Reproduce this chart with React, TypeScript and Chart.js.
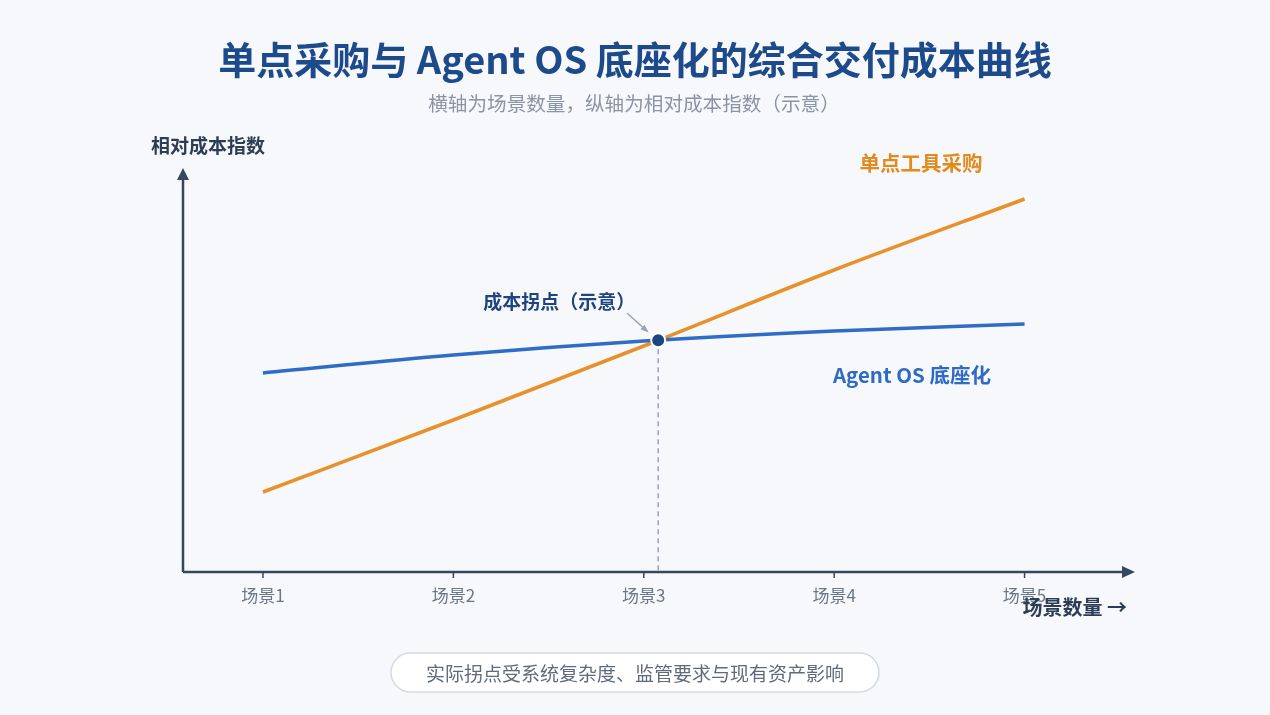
import React, { useEffect, useRef } from "react";
import { Chart, registerables } from "chart.js";

Chart.register(...registerables);

const scenes = [1, 2, 3, 4, 5];
const tickLabels = ["场景1", "场景2", "场景3", "场景4", "场景5"];
const singleTool = [20, 38, 56.5, 75.5, 93.25];
const agentOS = [49.75, 54.25, 57.75, 60.25, 62];

const TITLE = "单点采购与 Agent OS 底座化的综合交付成本曲线";
const SUBTITLE = "横轴为场景数量，纵轴为相对成本指数（示意）";
const Y_LABEL = "相对成本指数";
const X_LABEL = "场景数量 →";
const LABEL_SINGLE = "单点工具采购";
const LABEL_OS = "Agent OS 底座化";
const LABEL_CROSS = "成本拐点（示意）";
const FOOTNOTE = "实际拐点受系统复杂度、监管要求与现有资产影响";

const FONT = '"Noto Sans CJK SC", "Noto Sans", sans-serif';

function intersection() {
  for (let i = 0; i < scenes.length - 1; i++) {
    const d0 = singleTool[i] - agentOS[i];
    const d1 = singleTool[i + 1] - agentOS[i + 1];
    if (d0 <= 0 && d1 >= 0) {
      const t = -d0 / (d1 - d0);
      return {
        x: scenes[i] + t * (scenes[i + 1] - scenes[i]),
        y: agentOS[i] + t * (agentOS[i + 1] - agentOS[i]),
      };
    }
  }
  return { x: 3, y: agentOS[2] };
}

export default function App() {
  const ref = useRef<HTMLCanvasElement>(null);

  useEffect(() => {
    if (!ref.current) return;
    const cross = intersection();

    const decor = {
      id: "decor",
      beforeDatasetsDraw(chart: any) {
        const ctx = chart.ctx as CanvasRenderingContext2D;
        const xs = chart.scales.x;
        const ys = chart.scales.y;
        const left = chart.chartArea.left;
        const bottom = chart.chartArea.bottom;
        const right = chart.chartArea.right;
        const top = chart.chartArea.top;
        ctx.save();
        // dashed guide
        const px = xs.getPixelForValue(cross.x);
        const py = ys.getPixelForValue(cross.y);
        ctx.strokeStyle = "#9aa4b3";
        ctx.lineWidth = 1.5;
        ctx.setLineDash([5, 4]);
        ctx.beginPath();
        ctx.moveTo(px, py);
        ctx.lineTo(px, bottom);
        ctx.stroke();
        ctx.setLineDash([]);

        // axes
        const axisColor = "#34475f";
        ctx.strokeStyle = axisColor;
        ctx.fillStyle = axisColor;
        ctx.lineWidth = 2.5;
        ctx.beginPath();
        ctx.moveTo(left, bottom);
        ctx.lineTo(right - 10, bottom);
        ctx.moveTo(left, bottom);
        ctx.lineTo(left, top + 10);
        ctx.stroke();
        // arrowheads
        ctx.beginPath();
        ctx.moveTo(right, bottom);
        ctx.lineTo(right - 13, bottom - 6);
        ctx.lineTo(right - 13, bottom + 6);
        ctx.closePath();
        ctx.fill();
        ctx.beginPath();
        ctx.moveTo(left, top);
        ctx.lineTo(left - 6, top + 12);
        ctx.lineTo(left + 6, top + 12);
        ctx.closePath();
        ctx.fill();

        // ticks and labels
        ctx.lineWidth = 1.5;
        ctx.font = `17px ${FONT}`;
        ctx.textAlign = "center";
        ctx.textBaseline = "middle";
        scenes.forEach((s, i) => {
          const tx = xs.getPixelForValue(s);
          ctx.strokeStyle = axisColor;
          ctx.beginPath();
          ctx.moveTo(tx, bottom);
          ctx.lineTo(tx, bottom + 6);
          ctx.stroke();
          ctx.fillStyle = "#6b7687";
          ctx.fillText(tickLabels[i], tx, bottom + 24);
        });
        ctx.restore();
      },
      afterDatasetsDraw(chart: any) {
        const ctx = chart.ctx as CanvasRenderingContext2D;
        const xs = chart.scales.x;
        const ys = chart.scales.y;
        const W = chart.width;
        const bottom = chart.chartArea.bottom;
        const right = chart.chartArea.right;
        ctx.save();
        ctx.textBaseline = "middle";
        ctx.textAlign = "center";

        // title
        ctx.fillStyle = "#1d4a8a";
        ctx.font = `bold 38px ${FONT}`;
        ctx.fillText(TITLE, W / 2, 60);
        ctx.fillStyle = "#8a94a5";
        ctx.font = `19.6px ${FONT}`;
        ctx.fillText(SUBTITLE, W / 2 - 1, 104);

        // axis titles
        ctx.fillStyle = "#2d3d54";
        ctx.font = `bold 19px ${FONT}`;
        ctx.textAlign = "left";
        ctx.fillText(Y_LABEL, 151, 146);
        ctx.font = `bold 20px ${FONT}`;
        ctx.textAlign = "right";
        ctx.fillText(X_LABEL, right - 8, bottom + 35);

        // series labels
        ctx.textAlign = "center";
        ctx.font = `bold 20.5px ${FONT}`;
        ctx.fillStyle = "#e38a1c";
        ctx.fillText(LABEL_SINGLE, 921, 163);
        ctx.fillStyle = "#2f6bc4";
        ctx.fillText(LABEL_OS, 912, 375);

        // crossover annotation
        const px = xs.getPixelForValue(cross.x);
        const py = ys.getPixelForValue(cross.y);
        ctx.fillStyle = "#1f4480";
        ctx.font = `bold 19px ${FONT}`;
        ctx.fillText(LABEL_CROSS, px - 99, py - 38);
        const ax0 = px - 31, ay0 = py - 27, ax1 = px - 11, ay1 = py - 9;
        ctx.strokeStyle = "#9aa4b3";
        ctx.fillStyle = "#9aa4b3";
        ctx.lineWidth = 1.6;
        ctx.beginPath();
        ctx.moveTo(ax0, ay0);
        ctx.lineTo(ax1, ay1);
        ctx.stroke();
        const ang = Math.atan2(ay1 - ay0, ax1 - ax0);
        ctx.beginPath();
        ctx.moveTo(ax1 + 2 * Math.cos(ang), ay1 + 2 * Math.sin(ang));
        ctx.lineTo(ax1 - 7 * Math.cos(ang - 0.45), ay1 - 7 * Math.sin(ang - 0.45));
        ctx.lineTo(ax1 - 7 * Math.cos(ang + 0.45), ay1 - 7 * Math.sin(ang + 0.45));
        ctx.closePath();
        ctx.fill();

        // footnote pill
        const pw = 488, ph = 39;
        const pxl = W / 2 - pw / 2, pyt = 653;
        ctx.beginPath();
        ctx.roundRect(pxl, pyt, pw, ph, ph / 2);
        ctx.fillStyle = "#ffffff";
        ctx.fill();
        ctx.strokeStyle = "#d3d9e3";
        ctx.lineWidth = 1.5;
        ctx.stroke();
        ctx.fillStyle = "#5f6b7c";
        ctx.font = `19px ${FONT}`;
        ctx.textAlign = "center";
        ctx.fillText(FOOTNOTE, W / 2, pyt + ph / 2 + 1);
        ctx.restore();
      },
    };

    const chart = new Chart(ref.current, {
      type: "line",
      data: {
        datasets: [
          {
            label: LABEL_SINGLE,
            data: scenes.map((s, i) => ({ x: s, y: singleTool[i] })),
            borderColor: "#e8912b",
            borderWidth: 3.5,
            pointRadius: 0,
            cubicInterpolationMode: "monotone",
            fill: false,
            order: 2,
          },
          {
            label: LABEL_OS,
            data: scenes.map((s, i) => ({ x: s, y: agentOS[i] })),
            borderColor: "#2f6cc6",
            borderWidth: 3.5,
            pointRadius: 0,
            cubicInterpolationMode: "monotone",
            fill: false,
            order: 1,
          },
          {
            label: LABEL_CROSS,
            data: [{ x: cross.x, y: cross.y }],
            showLine: false,
            pointRadius: 7,
            pointBackgroundColor: "#1d4580",
            pointBorderColor: "#ffffff",
            pointBorderWidth: 2,
            order: 0,
          },
        ],
      },
      options: {
        animation: false,
        responsive: false,
        layout: { padding: { left: 183, right: 135, top: 168, bottom: 143 } },
        plugins: { legend: { display: false }, title: { display: false }, tooltip: { enabled: false } },
        scales: {
          x: { type: "linear", min: 0.58, max: 5.58, display: false },
          y: { type: "linear", min: 0, max: 101, display: false },
        },
      },
      plugins: [decor],
    } as any);
    return () => chart.destroy();
  }, []);

  return (
    <div style={{ position: "absolute", left: 0, top: 0, width: 1270, height: 715, background: "#f6f8fc" }}>
      <canvas ref={ref} width={1270} height={715} style={{ display: "block" }} />
    </div>
  );
}
